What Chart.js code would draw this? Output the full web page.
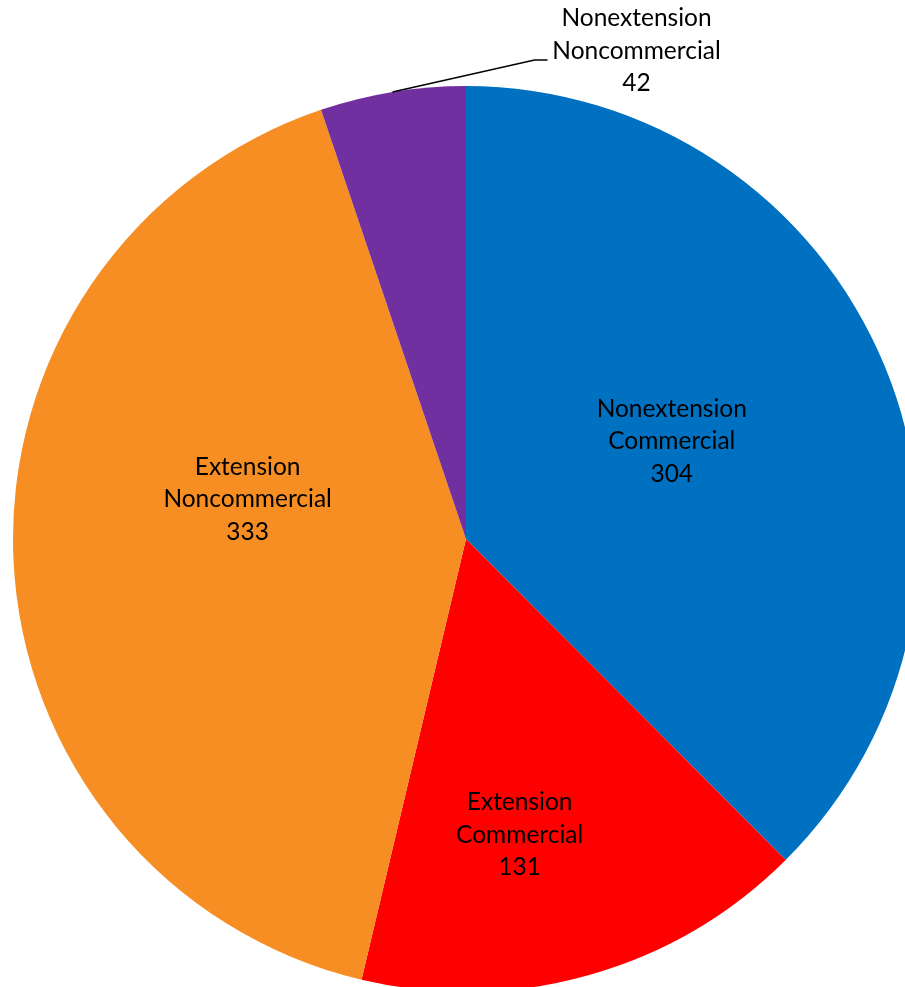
<!DOCTYPE html>
<html>
<head>
<meta charset="utf-8">
<script src="https://cdn.jsdelivr.net/npm/chart.js@4/dist/chart.umd.min.js"></script>
<style>
  html, body { margin: 0; padding: 0; background: #fff; overflow: hidden; }
  #wrap { position: absolute; left: 0; top: 0; width: 932px; height: 1078px; }
</style>
</head>
<body>
<div id="wrap"><canvas id="pieChart"></canvas></div>
<script>
// Slice names (one line per array entry) and counts
const categories = [
    ['Nonextension', 'Commercial'],
    ['Extension', 'Commercial'],
    ['Extension', 'Noncommercial'],
    ['Nonextension', 'Noncommercial']
];
const counts = [304, 131, 333, 42];
const sliceColors = ['#0070C0', '#FF0000', '#F68E23', '#7030A0'];

const FONT = '"Lato", "Noto Sans", sans-serif';

// Where each label sits: radius as a share of the pie radius, and a nudge to the slice's mid angle (deg)
const labelSpots = [
    { r: 0.503, turn: -3 },
    { r: 0.664, turn: 5.5 },
    { r: 0.49, turn: 13 },
    { outside: true }
];

// Draws the category / value labels, with a leader line for the thin slice
const sliceLabels = {
    id: 'sliceLabels',
    afterDatasetsDraw(chart) {
        const c = chart.ctx;
        const meta = chart.getDatasetMeta(0);
        const lineH = 32.5;
        c.save();
        c.font = '24.5px ' + FONT;
        c.fillStyle = '#000';
        c.textAlign = 'center';
        c.textBaseline = 'middle';
        meta.data.forEach((arc, i) => {
            const lines = categories[i].concat(String(counts[i]));
            const mid = (arc.startAngle + arc.endAngle) / 2;
            const spot = labelSpots[i];
            let tx, ty;
            if (spot.outside) {
                const ax = arc.x + Math.cos(mid) * arc.outerRadius;
                const ay = arc.y + Math.sin(mid) * arc.outerRadius;
                const ex = ax + 142, ey = ay - 32;
                c.beginPath();
                c.moveTo(ax, ay);
                c.lineTo(ex, ey);
                c.lineTo(ex + 13, ey);
                c.strokeStyle = '#000';
                c.lineWidth = 1.5;
                c.stroke();
                tx = ex + 102;
                ty = ey - 9;
            } else {
                const a = mid + spot.turn * Math.PI / 180;
                tx = arc.x + Math.cos(a) * arc.outerRadius * spot.r;
                ty = arc.y + Math.sin(a) * arc.outerRadius * spot.r;
            }
            lines.forEach((t, k) => {
                c.fillText(t, tx, ty + (k - (lines.length - 1) / 2) * lineH);
            });
        });
        c.restore();
    }
};

new Chart(document.getElementById('pieChart'), {
    type: 'pie',
    data: {
        labels: categories.map(l => l.join(' ')),
        datasets: [{
            data: counts,
            backgroundColor: sliceColors,
            borderWidth: 0
        }]
    },
    options: {
        responsive: true,
        maintainAspectRatio: false,
        animation: false,
        layout: { padding: { left: 13, right: 13, top: 86, bottom: 86 } },
        plugins: {
            legend: { display: false },
            tooltip: { enabled: false }
        }
    },
    plugins: [sliceLabels]
});
</script>
</body>
</html>
